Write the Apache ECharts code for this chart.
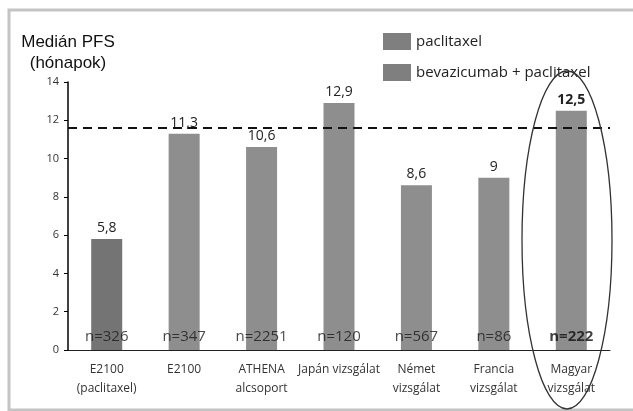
<!DOCTYPE html>
<html>
<head>
<meta charset="utf-8">
<script src="https://cdn.jsdelivr.net/npm/echarts@6/dist/echarts.min.js"></script>
<style>
  html, body { margin: 0; padding: 0; background: #fff; }
  #chart { width: 633px; height: 411px; }
</style>
</head>
<body>
<div id="chart"></div>
<script>
// adatok
var categories = ['E2100\n(paclitaxel)', 'E2100', 'ATHENA\nalcsoport', 'Japán vizsgálat', 'Német\nvizsgálat', 'Francia\nvizsgálat', 'Magyar\nvizsgálat'];
var paclitaxel = [5.8, '-', '-', '-', '-', '-', '-'];
var bevaPacli = ['-', 11.3, 10.6, 12.9, 8.6, 9, 12.5];
var nCounts = ['n=326', 'n=347', 'n=2251', 'n=120', 'n=567', 'n=86', 'n=222'];
var refLine = 11.6;
var yTicks = [0, 14, 2];

var font = '"Open Sans", "Liberation Sans", sans-serif';
var dark = '#747474', light = '#8e8e8e';

var chart = echarts.init(document.getElementById('chart'), null, { renderer: 'canvas' });

function valueLabel(p) {
  if (p.value === '-') return '';
  var s = String(p.value).replace('.', ',');
  return p.dataIndex === categories.length - 1 ? '{b|' + s + '}' : s;
}

var option = {
  animation: false,
  backgroundColor: '#fff',
  grid: { left: 68, right: 23, top: 82, bottom: 61 },
  legend: {
    orient: 'vertical',
    left: 378, top: 28,
    itemWidth: 28, itemHeight: 17, itemGap: 14,
    icon: 'rect',
    textStyle: { fontFamily: font, fontSize: 15, color: '#222' },
    data: [
      { name: 'paclitaxel', itemStyle: { color: '#7f7f7f' } },
      { name: 'bevazicumab + paclitaxel', itemStyle: { color: '#7f7f7f' } }
    ]
  },
  xAxis: {
    type: 'category',
    data: categories,
    axisLine: { lineStyle: { color: '#222', width: 1 } },
    axisTick: { show: false },
    axisLabel: { fontFamily: font, fontSize: 12, color: '#333', lineHeight: 19, margin: 10, interval: 0 }
  },
  yAxis: {
    type: 'value',
    min: yTicks[0], max: yTicks[1], interval: yTicks[2],
    splitLine: { show: false },
    axisLine: { show: true, lineStyle: { color: '#000', width: 1.5 } },
    axisTick: { show: true, length: 4, lineStyle: { color: '#000' } },
    axisLabel: { fontFamily: font, fontSize: 11, color: '#333', margin: 9 }
  },
  series: [
    {
      name: 'paclitaxel', type: 'bar', stack: 'all', barWidth: 31,
      data: paclitaxel,
      itemStyle: { color: dark },
      label: { show: true, position: 'top', distance: 4, fontFamily: font, fontSize: 14, color: '#222', formatter: valueLabel }
    },
    {
      name: 'bevazicumab + paclitaxel', type: 'bar', stack: 'all', barWidth: 31,
      data: bevaPacli,
      itemStyle: { color: light },
      label: {
        show: true, position: 'top', distance: 4, fontFamily: font, fontSize: 14, color: '#222',
        formatter: valueLabel,
        rich: { b: { fontFamily: font, fontSize: 14, fontWeight: 'bold', color: '#222' } }
      },
      markLine: {
        silent: true, symbol: 'none',
        label: { show: false },
        lineStyle: { color: '#111', type: [9, 6], width: 2 },
        data: [{ yAxis: refLine }]
      }
    },
    {
      name: 'n', type: 'scatter', symbolSize: 0,
      data: categories.map(function (c, i) { return [i, 0]; }),
      label: {
        show: true, position: 'top', distance: 6,
        fontFamily: font, fontSize: 15, color: '#1a1a1a',
        formatter: function (p) {
          var t = nCounts[p.dataIndex];
          return p.dataIndex === nCounts.length - 1 ? '{b|' + t + '}' : t;
        },
        rich: { b: { fontFamily: font, fontSize: 15, fontWeight: 'bold', color: '#111' } }
      },
      z: 5
    }
  ],
  graphic: [
    {
      type: 'rect', silent: true,
      shape: { x: 9, y: 10, width: 680, height: 400 },
      style: { fill: 'none', stroke: '#c4c4c4', lineWidth: 3 }
    },
    {
      type: 'text', silent: true,
      style: { x: 68, y: 32, text: 'Medián PFS\n(hónapok)', textAlign: 'center', font: '17px "Liberation Sans", sans-serif', fill: '#111', lineHeight: 21 }
    },
    {
      type: 'ellipse', silent: true,
      shape: { cx: 567, cy: 240, rx: 45, ry: 169 },
      style: { fill: 'none', stroke: '#333', lineWidth: 1.3 },
      z: 10
    }
  ]
};

chart.setOption(option);
</script>
</body>
</html>
